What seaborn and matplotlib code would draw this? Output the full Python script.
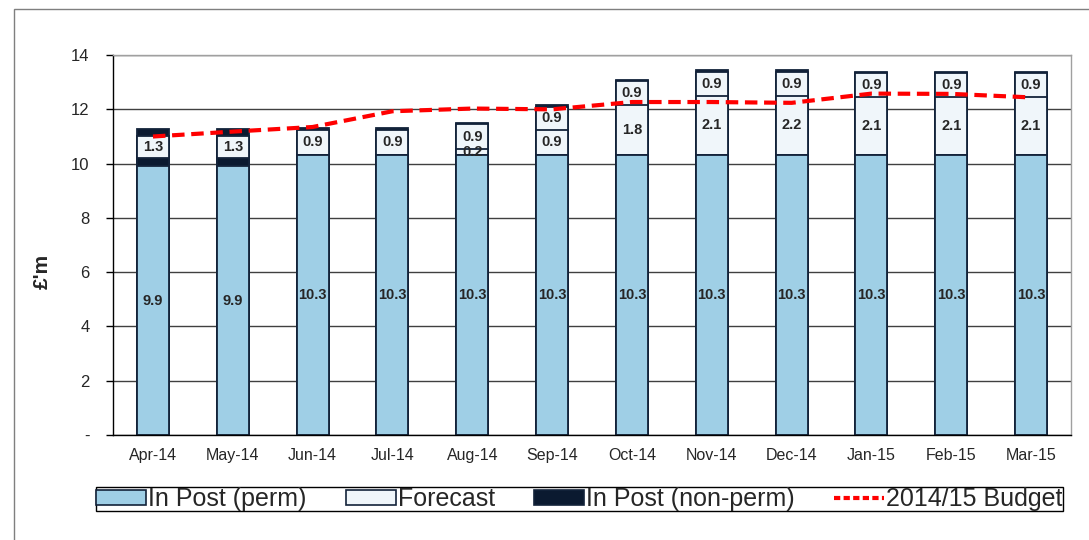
import numpy as np
import pandas as pd
import seaborn as sns
import matplotlib.pyplot as plt
from matplotlib.patches import Patch, Rectangle
from matplotlib.lines import Line2D

months = ['Apr-14', 'May-14', 'Jun-14', 'Jul-14', 'Aug-14', 'Sep-14',
          'Oct-14', 'Nov-14', 'Dec-14', 'Jan-15', 'Feb-15', 'Mar-15']

# stack pieces (£'m)
perm = [9.9, 9.9, 10.33, 10.33, 10.33, 10.33, 10.33, 10.33, 10.33, 10.33, 10.33, 10.33]
non_perm = [0.3, 0.3, 0, 0, 0, 0, 0, 0, 0, 0, 0, 0]
forecast_a = [0.8, 0.8, 0, 0, 0.2, 0.9, 1.82, 2.18, 2.18, 2.12, 2.12, 2.12]
forecast_b = [0, 0, 0.92, 0.92, 0.93, 0.87, 0.9, 0.88, 0.88, 0.88, 0.88, 0.88]
non_perm_top = [0.28, 0.28, 0.05, 0.05, 0.05, 0.05, 0.05, 0.05, 0.05, 0.05, 0.05, 0.05]
budget = [11.0, 11.18, 11.35, 11.93, 12.03, 12.0, 12.27, 12.27, 12.24, 12.58, 12.57, 12.44]

perm_labels = ['9.9', '9.9', '10.3', '10.3', '10.3', '10.3', '10.3', '10.3', '10.3', '10.3', '10.3', '10.3']
fc_a_labels = ['1.3', '1.3', '', '', '0.2', '0.9', '1.8', '2.1', '2.2', '2.1', '2.1', '2.1']
fc_b_labels = ['', '', '0.9', '0.9', '0.9', '0.9', '0.9', '0.9', '0.9', '0.9', '0.9', '0.9']

blue = '#9FCFE6'
white = '#F0F6FA'
navy = '#0B1A30'
edge = '#13233A'

df = pd.DataFrame({'month': months, 'perm': perm, 'np': non_perm,
                   'fa': forecast_a, 'fb': forecast_b, 'top': non_perm_top,
                   'budget': budget})
df['c1'] = df['perm']
df['c2'] = df['c1'] + df['np']
df['c3'] = df['c2'] + df['fa']
df['c4'] = df['c3'] + df['fb']
df['c5'] = df['c4'] + df['top']

sns.set_style('white')
plt.rcParams['font.family'] = ['Liberation Sans', 'DejaVu Sans']

fig = plt.figure(figsize=(10.89, 5.40), dpi=100)
ax = fig.add_axes([0.1038, 0.1944, 0.8797, 0.7036])
ax.set_axisbelow(True)

# draw cumulative totals tallest first so the pieces stack
for col, colour in [('c5', navy), ('c4', white), ('c3', white), ('c2', navy), ('c1', blue)]:
    sns.barplot(data=df, x='month', y=col, order=months, color=colour,
                width=0.4, edgecolor=edge, linewidth=1.3, saturation=1, ax=ax)

x = np.arange(len(months))
ax.plot(x, df['budget'], color='#FF0000', lw=3, ls=(0, (3, 1.6)), zorder=5)

# segment labels
for i in range(len(months)):
    ax.text(i, df['c1'][i] / 2, perm_labels[i], ha='center', va='center',
            fontsize=10.5, fontweight='bold')
    if fc_a_labels[i]:
        ax.text(i, (df['c2'][i] + df['c3'][i]) / 2, fc_a_labels[i], ha='center',
                va='center', fontsize=10.5, fontweight='bold', zorder=6)
    if fc_b_labels[i]:
        ax.text(i, (df['c3'][i] + df['c4'][i]) / 2, fc_b_labels[i], ha='center',
                va='center', fontsize=10.5, fontweight='bold', zorder=6)

ax.set_xlim(-0.5, len(months) - 0.5)
ax.set_ylim(0, 14)
ax.set_yticks(range(0, 15, 2))
ax.set_yticklabels(['-'] + [str(v) for v in range(2, 15, 2)], fontsize=12)
ax.yaxis.grid(True, color='#404040', lw=1)
ax.set_xticks(x)
ax.set_xticklabels(months, fontsize=11.5)
ax.set_xticks(np.arange(-0.5, len(months), 1), minor=True)
ax.tick_params(axis='x', which='major', length=0, pad=9)
ax.tick_params(axis='x', which='minor', length=5, width=1, color='black', direction='out')
ax.tick_params(axis='y', length=5, width=1, color='black', direction='out', left=True, pad=12)
ax.set_xlabel('')
ax.set_ylabel("£'m", fontsize=15, fontweight='bold')
ax.yaxis.set_label_coords(-0.064, 0.43)

for side in ['left', 'bottom']:
    ax.spines[side].set_color('black')
    ax.spines[side].set_linewidth(1)
for side in ['right', 'top']:
    ax.spines[side].set_color('#A0A0A0')
    ax.spines[side].set_linewidth(1)

# outer chart border
fig.patches.append(Rectangle((0.0129, -0.1), 1.2, 1.0833, transform=fig.transFigure,
                             fill=False, edgecolor='#7F7F7F', lw=1))

handles = [Patch(facecolor=blue, edgecolor=edge, lw=1.2),
           Patch(facecolor=white, edgecolor=edge, lw=1.2),
           Patch(facecolor=navy, edgecolor=edge, lw=1.2),
           Line2D([0], [0], color='#FF0000', lw=3, ls=(0, (1.5, 0.8)))]
labels = ['In Post (perm)', 'Forecast', 'In Post (non-perm)', '2014/15 Budget']
leg = fig.legend(handles, labels, loc='center', bbox_to_anchor=(0.532, 0.076), ncol=4,
                 fontsize=18, frameon=True, fancybox=False, edgecolor='black',
                 framealpha=1, borderpad=0.0, borderaxespad=0, handlelength=2.0,
                 handleheight=0.55, handletextpad=0.1, columnspacing=1.55)
leg.get_frame().set_linewidth(1)

fig.savefig('out.png', dpi=100)
